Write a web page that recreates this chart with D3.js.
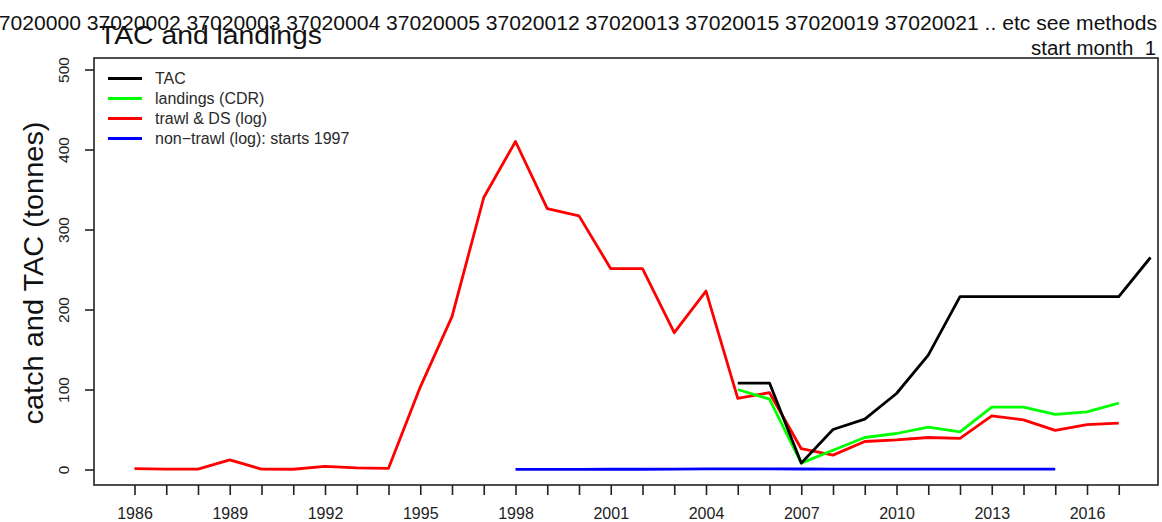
<!DOCTYPE html>
<html>
<head>
<meta charset="utf-8">
<script src="https://cdn.jsdelivr.net/npm/d3@7"></script>
<style>
  html, body { margin: 0; padding: 0; background: #fff; }
  svg { display: block; font-family: "Liberation Sans", Arial, Helvetica, sans-serif; }
</style>
</head>
<body>
<svg id="chart" width="1162" height="522"></svg>
<script>
// Yearly series (tonnes)
const tacYears = d3.range(2005, 2019);
const tacValues = [108, 108, 8, 50, 63, 95, 143, 216, 216, 216, 216, 216, 216, 265];

const cdrYears = d3.range(2005, 2018);
const cdrValues = [100, 88, 8, 24, 40, 45, 53, 47, 78, 78, 69, 72, 83];

const trawlYears = d3.range(1986, 2018);
const trawlValues = [1, 0.5, 0.5, 12, 0.5, 0.3, 4, 2, 1.5, 103, 191, 340, 410, 326, 317, 251, 251, 171, 223,
                     89, 96, 26, 18, 35, 37, 40, 39, 67, 62, 49, 56, 58];

const nonTrawlYears = d3.range(1998, 2016);
const nonTrawlValues = [0.2, 0.2, 0.2, 0.3, 0.3, 0.5, 0.8, 0.8, 0.8, 0.6, 0.5, 0.5, 0.4, 0.4, 0.4, 0.5, 0.5, 0.4];

const yTicks = [0, 100, 200, 300, 400, 500];
const xTickYears = d3.range(1986, 2018);
const xLabelYears = d3.range(1986, 2018, 3);

const legendItems = [
  { label: "TAC", color: "#000000" },
  { label: "landings (CDR)", color: "#00ff00" },
  { label: "trawl & DS (log)", color: "#ff0000" },
  { label: "non\u2212trawl (log): starts 1997", color: "#0000ff" }
];

const headerCodes = "37020000 37020002 37020003 37020004 37020005 37020012 37020013 37020015 37020019 37020021 .. etc see methods";

// Plot frame
const frame = { left: 94, right: 1158, top: 58, bottom: 485 };

const svg = d3.select("#chart");

const x = d3.scaleLinear().domain([1986, 2018]).range([134.5, 1150.5]);
const y = d3.scaleLinear().domain([0, 500]).range([469.5, 69.5]);

// Header texts (the long code list runs past the left edge)
svg.append("text")
  .attr("x", 1157).attr("y", 30)
  .attr("text-anchor", "end")
  .attr("font-size", 19.5)
  .attr("textLength", 1170)
  .attr("lengthAdjust", "spacingAndGlyphs")
  .attr("fill", "#111")
  .text(headerCodes);

svg.append("text")
  .attr("x", 1156).attr("y", 55)
  .attr("text-anchor", "end")
  .attr("font-size", 19.5)
  .attr("textLength", 125)
  .attr("lengthAdjust", "spacingAndGlyphs")
  .attr("fill", "#111")
  .text("start month\u00a0 1");

svg.append("text")
  .attr("x", 99).attr("y", 44)
  .attr("font-size", 25)
  .attr("textLength", 223)
  .attr("lengthAdjust", "spacingAndGlyphs")
  .attr("fill", "#111")
  .text("TAC and landings");

// Axis title
svg.append("text")
  .attr("transform", "translate(43,273) rotate(-90)")
  .attr("text-anchor", "middle")
  .attr("font-size", 28)
  .attr("textLength", 303)
  .attr("lengthAdjust", "spacingAndGlyphs")
  .attr("fill", "#111")
  .text("catch and TAC (tonnes)");

// Frame
svg.append("rect")
  .attr("x", frame.left).attr("y", frame.top)
  .attr("width", frame.right - frame.left)
  .attr("height", frame.bottom - frame.top)
  .attr("fill", "none")
  .attr("stroke", "#222")
  .attr("stroke-width", 1.6);

// Y axis
const yAxis = d3.axisLeft(y).tickValues(yTicks).tickSize(9).tickPadding(0).tickFormat(d3.format("d"));
const gy = svg.append("g").attr("transform", `translate(${frame.left},0)`).call(yAxis);
gy.select(".domain").remove();
gy.selectAll(".tick line").attr("stroke", "#222").attr("stroke-width", 1.6);
gy.selectAll(".tick text")
  .attr("font-size", 15.5)
  .attr("fill", "#222")
  .attr("x", 0).attr("dy", 0)
  .attr("text-anchor", "middle")
  .attr("transform", "translate(-29,0) rotate(-90)")
  .attr("dominant-baseline", "middle");

// X axis
const xAxis = d3.axisBottom(x).tickValues(xTickYears).tickSize(10).tickPadding(13)
  .tickFormat(d => xLabelYears.includes(d) ? String(d) : "");
const gx = svg.append("g").attr("transform", `translate(0,${frame.bottom})`).call(xAxis);
gx.select(".domain").remove();
gx.selectAll(".tick line").attr("stroke", "#222").attr("stroke-width", 1.6);
gx.selectAll(".tick text").attr("font-size", 16).attr("fill", "#222");

// Series lines
const line = d3.line().x(d => x(d[0])).y(d => y(d[1]));
function drawSeries(years, values, color) {
  svg.append("path")
    .datum(years.map((yr, i) => [yr, values[i]]))
    .attr("d", line)
    .attr("fill", "none")
    .attr("stroke", color)
    .attr("stroke-width", 2.8)
    .attr("stroke-linejoin", "round");
}
drawSeries(nonTrawlYears, nonTrawlValues, "#0000ff");
drawSeries(trawlYears, trawlValues, "#ff0000");
drawSeries(cdrYears, cdrValues, "#00ff00");
drawSeries(tacYears, tacValues, "#000000");

// Legend
const lg = svg.append("g");
legendItems.forEach((item, i) => {
  const ly = 78.5 + i * 20;
  lg.append("line")
    .attr("x1", 108).attr("x2", 142)
    .attr("y1", ly).attr("y2", ly)
    .attr("stroke", item.color)
    .attr("stroke-width", 2.8);
  lg.append("text")
    .attr("x", 155).attr("y", ly + 5.5)
    .attr("font-size", 16)
    .attr("fill", "#2a2a2a")
    .text(item.label);
});
</script>
</body>
</html>
